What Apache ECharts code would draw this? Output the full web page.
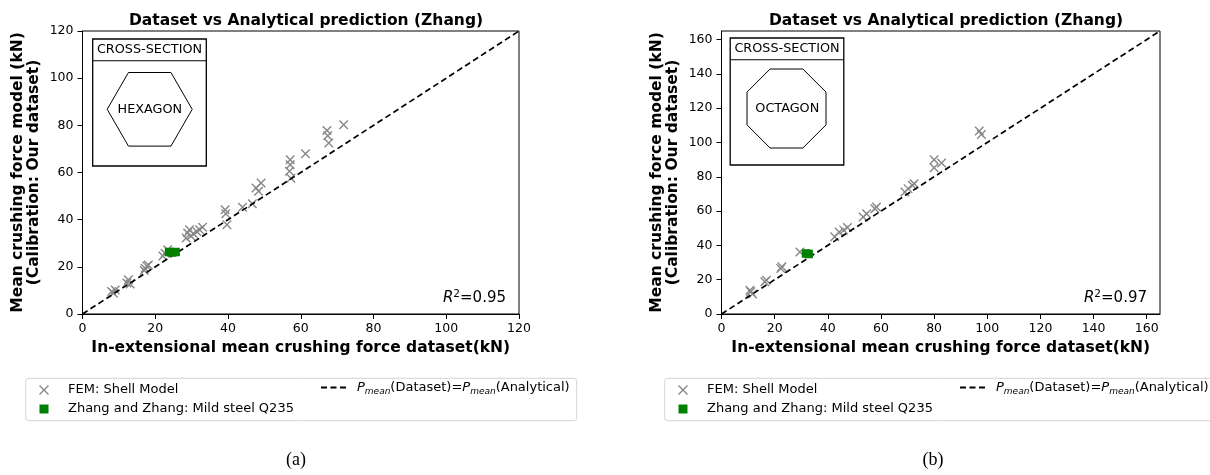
<!DOCTYPE html>
<html><head><meta charset="utf-8">
<script src="https://cdn.jsdelivr.net/npm/echarts@6/dist/echarts.min.js"></script>
<style>html,body{margin:0;padding:0;background:#fff}#c{width:1210px;height:475px}</style>
</head><body><div id="c"></div>
<script>
const FONT = 'DejaVu Sans';
// ---- data: (a) hexagon ----
const hexFEM = [[8.0,9.5],[8.5,8.8],[9.0,10.2],[12.2,13.1],[12.6,14.5],[13.1,12.7],[17.0,18.4],[17.2,19.4],[17.7,20.4],[18.1,20.8],[22.1,24.6],[22.7,25.8],[23.4,27.2],[28.5,32.2],[28.9,34.3],[29.4,35.7],[29.8,33.1],[30.5,34.0],[31.4,35.0],[32.2,35.7],[33.0,36.8],[39.2,44.2],[39.4,42.5],[39.7,37.8],[44.0,45.3],[46.7,46.7],[47.7,53.4],[48.4,52.0],[49.1,55.5],[56.9,60.5],[57.1,63.3],[57.1,65.4],[57.3,57.6],[61.3,67.9],[67.2,77.8],[67.4,75.6],[67.7,72.5],[71.8,80.2]];
const hexZhang = [[23.8,26.3],[24.7,26.1],[25.6,26.3]];
const hexMax = 120;
const hexTicks = [0,20,40,60,80,100,120];
const hexR2 = '0.95';
// ---- data: (b) octagon ----
const octFEM = [[10.7,13.9],[11.0,13.0],[11.7,11.6],[16.3,18.8],[16.9,19.7],[22.3,26.5],[22.7,27.5],[29.5,36.2],[42.6,45.0],[44.3,47.8],[46.0,48.9],[47.4,50.4],[53.3,56.6],[54.6,58.5],[57.7,61.4],[58.3,62.4],[69.0,71.2],[70.2,73.1],[71.8,75.0],[72.5,76.0],[80.0,89.9],[80.0,85.3],[82.8,88.0],[97.0,106.7],[97.8,104.7]];
const octZhang = [[31.8,35.3],[32.8,35.0]];
const octMax = 165;
const octTicks = [0,20,40,60,80,100,120,140,160];
const octR2 = '0.97';

const titleText = 'Dataset vs Analytical prediction (Zhang)';
const xName = 'In-extensional mean crushing force dataset(kN)';
const yName = 'Mean crushing force model (kN)\n(Calibration: Our dataset)';
const nameFEM = 'FEM: Shell Model';
const nameZhang = 'Zhang and Zhang: Mild steel Q235';
const nameLine = 'Pmean(Dataset)=Pmean(Analytical)';

const CROSS = 'path://M0,0L10,10M10,0L0,10';
const FEMSTYLE = {color:'rgba(0,0,0,0)', borderColor:'#878787', borderWidth:1.4, opacity:1};
const GREEN = '#008000';
const GREENSTYLE = {color:GREEN, opacity:1};

function xAxisCfg(gi, max, ticks){
  return {type:'value', gridIndex:gi, min:0, max:max,
    axisLine:{show:true, onZero:false, lineStyle:{color:'#000', width:1}},
    axisTick:{show:true, length:5, lineStyle:{color:'#000', width:1}, customValues:ticks},
    axisLabel:{color:'#000', fontFamily:FONT, fontSize:12.5, margin:8, customValues:ticks},
    splitLine:{show:false},
    name:xName, nameLocation:'middle', nameGap:25,
    nameTextStyle:{fontFamily:FONT, fontWeight:'bold', fontSize:15.5, color:'#000', lineHeight:16}};
}
function yAxisCfg(gi, max, ticks){
  return {type:'value', gridIndex:gi, min:0, max:max,
    axisLine:{show:true, onZero:false, lineStyle:{color:'#000', width:1}},
    axisTick:{show:true, length:5, lineStyle:{color:'#000', width:1}, customValues:ticks},
    axisLabel:{color:'#000', fontFamily:FONT, fontSize:12.5, margin:9, customValues:ticks},
    splitLine:{show:false},
    name:yName, nameLocation:'middle', nameGap:41, nameRotate:90,
    nameTextStyle:{fontFamily:FONT, fontWeight:'bold', fontSize:15.5, color:'#000', lineHeight:16}};
}
function seriesFor(gi, fem, zhang, max){
  return [
    {type:'scatter', name:nameFEM, xAxisIndex:gi, yAxisIndex:gi, data:fem, symbol:CROSS, symbolSize:8.5, itemStyle:FEMSTYLE, z:2},
    {type:'line', name:nameLine, xAxisIndex:gi, yAxisIndex:gi, data:[[0,0],[max,max]], symbol:'none', showSymbol:false, itemStyle:{color:'#000'}, lineStyle:{color:'#000', width:1.7, type:[6,3.5]}, z:3},
    {type:'scatter', name:nameZhang, xAxisIndex:gi, yAxisIndex:gi, data:zhang, symbol:'rect', symbolSize:8.5, itemStyle:GREENSTYLE, z:4}
  ];
}
const LFS = 13;
const legRich = {
  i:{fontFamily:FONT, fontStyle:'italic', fontSize:LFS, color:'#000', lineHeight:17},
  s:{fontFamily:FONT, fontStyle:'italic', fontSize:9, color:'#000', lineHeight:9, verticalAlign:'bottom'},
  n:{fontFamily:FONT, fontSize:LFS, color:'#000', lineHeight:17}
};
function legendsFor(dx){
  return [
    {data:[{name:nameFEM, icon:CROSS, itemStyle:FEMSTYLE},{name:nameZhang, icon:'rect', itemStyle:GREENSTYLE}],
     orient:'vertical', left:38.8+dx, top:382.5, itemWidth:9, itemHeight:9, itemGap:4, padding:0, selectedMode:false,
     textStyle:{fontFamily:FONT, fontSize:LFS, color:'#000', lineHeight:15, padding:[0,0,0,14.5]}},
    {data:[{name:nameLine, itemStyle:{color:'rgba(0,0,0,0)', borderWidth:0, opacity:0}}], left:320+dx, top:381, itemWidth:25, itemHeight:10, padding:0, selectedMode:false,
     itemStyle:{color:'rgba(0,0,0,0)', borderWidth:0, opacity:0},
     formatter:()=>'{i|P}{s|mean}{n|(Dataset)=}{i|P}{s|mean}{n|(Analytical)}',
     textStyle:{fontFamily:FONT, fontSize:LFS, color:'#000', padding:[0,0,0,6], rich:legRich}}
  ];
}
function insetFor(dx, dy, shapeName, points){
  const bx = 92.7+dx, by = 39+dy, bw = 113.6, bh = 127;
  return [
    {type:'rect', z:10, shape:{x:bx, y:by, width:bw, height:bh}, style:{fill:'#fff', stroke:'#000', lineWidth:1.3}},
    {type:'line', z:11, shape:{x1:bx, y1:by+21.7, x2:bx+bw, y2:by+21.7}, style:{stroke:'#000', lineWidth:1.1}},
    {type:'text', z:11, x:bx+bw/2, y:by+11, style:{text:'CROSS-SECTION', font:'12.8px "DejaVu Sans"', fill:'#000', align:'center', verticalAlign:'middle', textAlign:'center', textVerticalAlign:'middle'}},
    {type:'polygon', z:11, shape:{points:points}, style:{fill:'none', stroke:'#000', lineWidth:1}},
    {type:'text', z:11, x:bx+bw/2+0.3, y:by+70.3, style:{text:shapeName, font:'12.8px "DejaVu Sans"', fill:'#000', align:'center', verticalAlign:'middle', textAlign:'center', textVerticalAlign:'middle'}}
  ];
}
const hexPts = [[107.2,109.3],[128.45,72.5],[170.95,72.5],[192.2,109.3],[170.95,146.1],[128.45,146.1]];
const octPts = [[770.1,69],[802.9,69],[826,92.1],[826,124.9],[802.9,148],[770.1,148],[747,124.9],[747,92.1]];
const r2Rich = {
  i:{fontFamily:FONT, fontStyle:'italic', fontSize:15, fill:'#000', lineHeight:20},
  p:{fontFamily:FONT, fontSize:10.5, fill:'#000', lineHeight:11, verticalAlign:'top'},
  n:{fontFamily:FONT, fontSize:15, fill:'#000', lineHeight:20}
};
function r2Text(x, val){
  return {type:'text', z:11, x:x, y:298.3, style:{text:'{i|R}{p|2}{n|='+val+'}', rich:r2Rich, align:'right', verticalAlign:'middle', textAlign:'right', textVerticalAlign:'middle'}};
}
function legBox(x){
  return {type:'rect', z:0, shape:{x:x, y:378.3, width:551, height:42.4, r:3}, style:{fill:'#fff', stroke:'#d4d4d4', lineWidth:1}};
}
function caption(x, t){
  return {type:'text', x:x, y:460, style:{text:t, font:'18px "Liberation Serif"', fill:'#000', align:'center', verticalAlign:'middle', textAlign:'center', textVerticalAlign:'middle'}};
}

const chart = echarts.init(document.getElementById('c'), null, {renderer:'canvas'});
chart.setOption({
  animation:false,
  backgroundColor:'#fff',
  title:[
    {text:titleText, left:301, top:8, textAlign:'center', textStyle:{fontFamily:FONT, fontWeight:'bold', fontSize:15.5, color:'#000'}},
    {text:titleText, left:941, top:8, textAlign:'center', textStyle:{fontFamily:FONT, fontWeight:'bold', fontSize:15.5, color:'#000'}}
  ],
  grid:[
    {left:82.5, top:31, width:436.5, height:283, show:true, borderColor:'#000', borderWidth:1},
    {left:721.5, top:31, width:438.5, height:283, show:true, borderColor:'#000', borderWidth:1}
  ],
  xAxis:[xAxisCfg(0, hexMax, hexTicks), xAxisCfg(1, octMax, octTicks)],
  yAxis:[yAxisCfg(0, hexMax, hexTicks), yAxisCfg(1, octMax, octTicks)],
  legend:[].concat(legendsFor(0), legendsFor(639)),
  series:[].concat(seriesFor(0, hexFEM, hexZhang, hexMax), seriesFor(1, octFEM, octZhang, octMax)),
  graphic:[].concat(
    [legBox(25.7), legBox(664.7)],
    insetFor(0, 0, 'HEXAGON', hexPts),
    insetFor(637.5, -1, 'OCTAGON', octPts),
    [r2Text(506, hexR2), r2Text(1147, octR2), caption(296, '(a)'), caption(933, '(b)')]
  )
});
</script></body></html>
